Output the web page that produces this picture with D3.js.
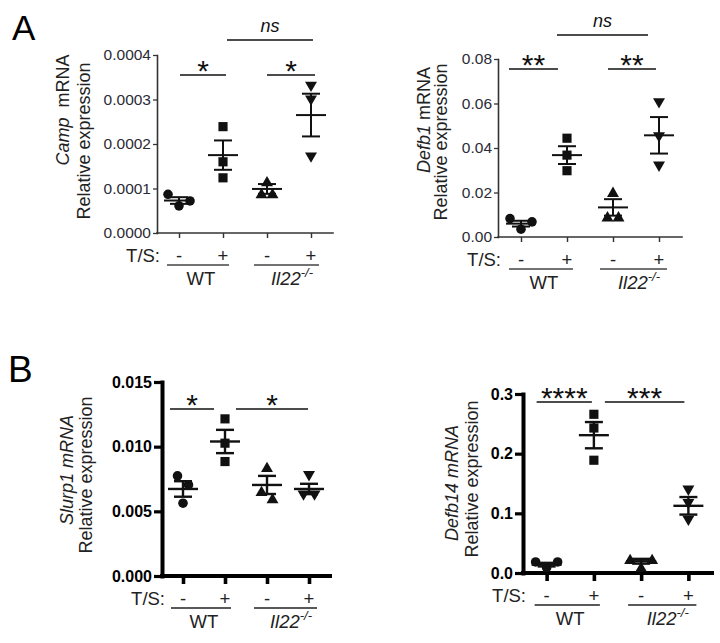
<!DOCTYPE html>
<html>
<head>
<meta charset="utf-8">
<script src="https://cdn.jsdelivr.net/npm/d3@7"></script>
<style>
  html, body { margin: 0; padding: 0; background: #fff; }
  svg { display: block; font-family: "Liberation Sans", Arial, sans-serif; }
</style>
</head>
<body>
<svg id="chart" width="720" height="643"></svg>
<script>
// ---------------- DATA ----------------
const groups = ["WT-", "WT+", "Il22-", "Il22+"];
const treatments = ["-", "+", "-", "+"];
const genotypes = ["WT", "Il22"];
const genes = ["Camp", "Defb1", "Slurp1", "Defb14"];

// individual replicate values per group
const campPoints   = [[0.000087, 0.000061, 0.000072], [0.000239, 0.000160, 0.000124], [0.000115, 0.000088, 0.000088], [0.000330, 0.000299, 0.000171]];
const campMean     = [0.000073, 0.000175, 0.000099, 0.000265];
const campSem      = [0.0000075, 0.000033, 0.000011, 0.000048];
const campTicks    = [0, 0.0001, 0.0002, 0.0003, 0.0004];
const campTickLabels = ["0.0000", "0.0001", "0.0002", "0.0003", "0.0004"];

const defb1Points  = [[0.0083, 0.0068, 0.0035], [0.0444, 0.0368, 0.0298], [0.0200, 0.0090, 0.0090], [0.0604, 0.0451, 0.0319]];
const defb1Mean    = [0.0060, 0.0368, 0.0133, 0.0457];
const defb1Sem     = [0.0013, 0.0040, 0.0037, 0.0082];
const defb1Ticks   = [0, 0.02, 0.04, 0.06, 0.08];
const defb1TickLabels = ["0.00", "0.02", "0.04", "0.06", "0.08"];

const slurp1Points = [[0.00774, 0.00704, 0.00563], [0.01215, 0.01027, 0.00885], [0.00838, 0.00653, 0.00596], [0.00777, 0.00627, 0.00627]];
const slurp1Mean   = [0.00673, 0.0104, 0.00704, 0.00673];
const slurp1Sem    = [0.0006, 0.0009, 0.0007, 0.0004];
const slurp1Ticks  = [0, 0.005, 0.010, 0.015];
const slurp1TickLabels = ["0.000", "0.005", "0.010", "0.015"];

const defb14Points = [[0.0185, 0.0185, 0.009], [0.266, 0.243, 0.189], [0.0225, 0.0225, 0.009], [0.139, 0.1166, 0.0886]];
const defb14Mean   = [0.014, 0.231, 0.0197, 0.1126];
const defb14Sem    = [0.003, 0.022, 0.004, 0.0147];
const defb14Ticks  = [0, 0.1, 0.2, 0.3];
const defb14TickLabels = ["0.0", "0.1", "0.2", "0.3"];

// significance comparisons: [fromGroupIndex, toGroupIndex, label, level]
const campSig   = [[0, 1, "*", 0], [2, 3, "*", 0], [1, 3, "ns", 1]];
const defb1Sig  = [[0, 1, "**", 0], [2, 3, "**", 0], [1, 3, "ns", 1]];
const slurp1Sig = [[0, 1, "*", 0], [1, 3, "*", 0]];
const defb14Sig = [[0, 1, "****", 0], [1, 3, "***", 0]];

// axis titles
const campTitle   = [[["Camp", true], ["  mRNA", false]], [["Relative expression", false]]];
const defb1Title  = [[["Defb1", true], [" mRNA", false]], [["Relative expression", false]]];
const slurp1Title = [[["Slurp1 mRNA", true]], [["Relative expression", false]]];
const defb14Title = [[["Defb14 mRNA", true]], [["Relative expression", false]]];

// ---------------- LAYOUT ----------------
const svg = d3.select("#chart");
svg.append("rect").attr("width", 720).attr("height", 643).attr("fill", "#fff");

const styleA = { axisColor: "#333", axisWidth: 1.6, tickLen: 4, xTickLen: 5, tickFont: 15.5, tickWeight: "normal", tickColor: "#2b2b35",
                 markWidth: 2, textColor: "#222", underColor: "#444" };
const styleB = { axisColor: "#000", axisWidth: 4, tickLen: 8, xTickLen: 8, tickFont: 16, tickWeight: "bold", tickColor: "#000",
                 markWidth: 2.4, textColor: "#222", underColor: "#222" };

const panels = [
  { points: campPoints, mean: campMean, sem: campSem, ticks: campTicks, tickLabels: campTickLabels, sig: campSig, title: campTitle,
    x0: 157, xEnd: 333, yTop: 55, yZero: 233, sigY: [75, 40], style: styleA,
    sigOffsets: [[1, 3], [0, 4], [4, 2]],
    titlePos: [[63, 110], [84, 141]] },
  { points: defb1Points, mean: defb1Mean, sem: defb1Sem, ticks: defb1Ticks, tickLabels: defb1TickLabels, sig: defb1Sig, title: defb1Title,
    x0: 498, xEnd: 682, yTop: 59, yZero: 237, sigY: [69, 35], style: styleA,
    sigOffsets: [[-12, -9], [-5, -3], [-10, -11]],
    titlePos: [[424, 120], [441, 142]] },
  { points: slurp1Points, mean: slurp1Mean, sem: slurp1Sem, ticks: slurp1Ticks, tickLabels: slurp1TickLabels, sig: slurp1Sig, title: slurp1Title,
    x0: 162, xEnd: 330, yTop: 382, yZero: 576, sigY: [409, 380], style: styleB,
    sigOffsets: [[-13, -11], [11, -1]],
    titlePos: [[67, 470], [86, 475]] },
  { points: defb14Points, mean: defb14Mean, sem: defb14Sem, ticks: defb14Ticks, tickLabels: defb14TickLabels, sig: defb14Sig, title: defb14Title,
    x0: 523, xEnd: 712, yTop: 394, yZero: 573, sigY: [402, 370], style: styleB,
    sigOffsets: [[-10, -2], [11, -4]],
    titlePos: [[452, 483], [472, 479]] }
];

const symbolTypes = [d3.symbolCircle, d3.symbolSquare, d3.symbolTriangle, d3.symbolTriangle];
const symbolSizes = [72, 84, 62, 62];
const symbolRot = [0, 0, 0, 180];

function drawPanel(p) {
  const s = p.style;
  const g = svg.append("g");
  const y = d3.scaleLinear().domain([0, p.ticks[p.ticks.length - 1]]).range([p.yZero, p.yTop]);
  const x = d3.scalePoint().domain(groups).range([p.x0, p.xEnd]).padding(0.5);

  // y axis
  const yAxis = d3.axisLeft(y).tickValues(p.ticks).tickFormat((d, i) => p.tickLabels[i])
    .tickSizeInner(s.tickLen).tickSizeOuter(0).tickPadding(2);
  const ya = g.append("g").attr("transform", `translate(${p.x0},0)`).call(yAxis);
  ya.select(".domain").attr("stroke", s.axisColor).attr("stroke-width", s.axisWidth).attr("stroke-linecap", "square");
  ya.selectAll(".tick line").attr("stroke", s.axisColor).attr("stroke-width", s.axisWidth * 0.8);
  ya.selectAll(".tick text").attr("font-size", s.tickFont).attr("font-weight", s.tickWeight)
    .attr("fill", s.tickColor).attr("font-family", "Liberation Sans, Arial, sans-serif");

  // x axis
  const xAxis = d3.axisBottom(x).tickFormat("").tickSizeInner(s.xTickLen).tickSizeOuter(0);
  const xa = g.append("g").attr("transform", `translate(0,${p.yZero})`).call(xAxis);
  xa.select(".domain").attr("d", `M${p.x0},0H${p.xEnd}`)
    .attr("stroke", s.axisColor).attr("stroke-width", s.axisWidth).attr("stroke-linecap", "square");
  xa.selectAll(".tick line").attr("stroke", s.axisColor).attr("stroke-width", s.axisWidth * 0.9);

  // points with simple row-based spreading
  const d = 11;
  p.points.forEach((vals, gi) => {
    const cx = x(groups[gi]);
    const pts = vals.map(v => ({ v, py: y(v) })).sort((a, b) => a.v - b.v);
    const rows = [];
    pts.forEach(pt => {
      const last = rows[rows.length - 1];
      if (last && Math.abs(last[last.length - 1].py - pt.py) < 10) last.push(pt); else rows.push([pt]);
    });
    rows.forEach(row => {
      let offs;
      if (row.length === 1) offs = [0];
      else if (row.length === 2) offs = [d / 2, -d / 2];
      else offs = [0, d, -d];
      row.forEach((pt, k) => { pt.px = cx + offs[k]; });
    });
    const sym = d3.symbol().type(symbolTypes[gi]).size(symbolSizes[gi]);
    g.selectAll(null).data(pts).enter().append("path")
      .attr("d", sym)
      .attr("transform", pt => `translate(${pt.px},${pt.py + (gi === 3 ? -1 : gi === 2 ? 1 : 0)}) rotate(${symbolRot[gi]})`)
      .attr("fill", "#111");

    // mean and SEM
    const m = p.mean[gi], e = p.sem[gi];
    const lines = [
      [cx - 15, y(m), cx + 15, y(m)],
      [cx, y(m - e), cx, y(m + e)],
      [cx - 9, y(m + e), cx + 9, y(m + e)],
      [cx - 9, y(m - e), cx + 9, y(m - e)]
    ];
    g.selectAll(null).data(lines).enter().append("line")
      .attr("x1", l => l[0]).attr("y1", l => l[1]).attr("x2", l => l[2]).attr("y2", l => l[3])
      .attr("stroke", "#111").attr("stroke-width", s.markWidth);
  });

  // significance
  p.sig.forEach((c, ci) => {
    const [a, b, label, level] = c;
    const xs = x(groups[a]) + p.sigOffsets[ci][0];
    const xe = x(groups[b]) + p.sigOffsets[ci][1];
    const ly = p.sigY[level];
    g.append("line").attr("x1", xs).attr("x2", xe).attr("y1", ly).attr("y2", ly)
      .attr("stroke", "#111").attr("stroke-width", 1.5);
    const isNs = label === "ns";
    g.append("text").attr("x", (xs + xe) / 2).attr("y", isNs ? ly - 8 : ly + 6)
      .attr("text-anchor", "middle").attr("font-size", isNs ? 18 : 30)
      .attr("font-style", isNs ? "italic" : "normal").attr("fill", "#111").text(label);
  });

  // T/S row
  const rowY = p.yZero + 29;
  g.append("text").attr("x", p.x0 + 3).attr("y", rowY).attr("text-anchor", "end")
    .attr("font-size", 18.5).attr("fill", s.textColor).text("T/S:");
  treatments.forEach((t, i) => {
    g.append("text").attr("x", x(groups[i])).attr("y", rowY).attr("text-anchor", "middle")
      .attr("font-size", 18.5).attr("fill", s.textColor).text(t);
  });
  // genotype underlines and labels
  [[0, 1, -12, 6], [2, 3, -13, 8]].forEach(([a, b, o1, o2], k) => {
    const xa1 = x(groups[a]), xb1 = x(groups[b]);
    g.append("line").attr("x1", xa1 + o1).attr("x2", xb1 + o2).attr("y1", p.yZero + 32).attr("y2", p.yZero + 32)
      .attr("stroke", s.underColor).attr("stroke-width", 1.4);
    const t = g.append("text").attr("x", (xa1 + xb1) / 2 + (k === 1 ? 3 : 0)).attr("y", p.yZero + 52)
      .attr("text-anchor", "middle").attr("font-size", 18.5).attr("fill", s.textColor);
    if (k === 0) t.text(genotypes[0]);
    else {
      t.append("tspan").attr("font-style", "italic").text(genotypes[1]);
      t.append("tspan").attr("font-style", "italic").attr("font-size", 13).attr("dy", -8).text("-/-");
    }
  });

  // y title
  p.title.forEach((line, li) => {
    const [tx, ty] = p.titlePos[li];
    const t = g.append("text").attr("transform", `translate(${tx},${ty}) rotate(-90)`)
      .attr("text-anchor", "middle").attr("dy", "0.35em").attr("font-size", 18).attr("fill", s.textColor)
      .attr("xml:space", "preserve").style("white-space", "pre");
    line.forEach(([str, it]) => t.append("tspan").attr("font-style", it ? "italic" : "normal").text(str));
  });
}

panels.forEach(drawPanel);

// panel letters
svg.append("text").attr("x", 12).attr("y", 40).attr("font-size", 35).attr("fill", "#000").text("A");
svg.append("text").attr("x", 8).attr("y", 382).attr("font-size", 37).attr("fill", "#000").text("B");
</script>
</body>
</html>
